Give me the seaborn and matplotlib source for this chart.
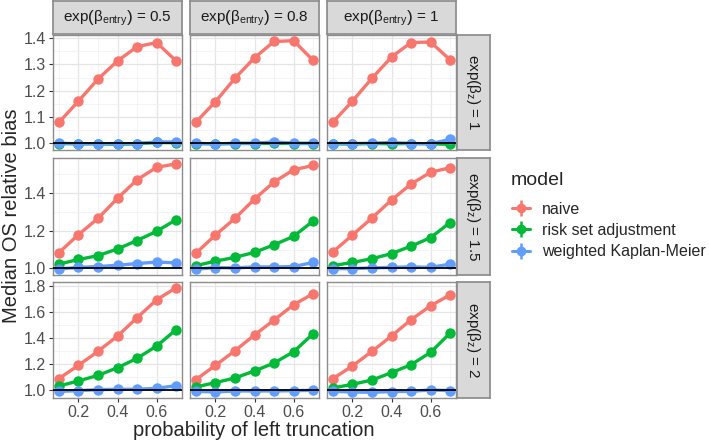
import numpy as np
import pandas as pd
import seaborn as sns
import matplotlib.pyplot as plt
from matplotlib.lines import Line2D
from matplotlib.legend_handler import HandlerTuple
from matplotlib.ticker import MultipleLocator, FormatStrFormatter

# probability of left truncation
probs = [0.1, 0.2, 0.3, 0.4, 0.5, 0.6, 0.7]
entry_levels = ["0.5", "0.8", "1"]
z_levels = ["1", "1.5", "2"]
models = ["naive", "risk set adjustment", "weighted Kaplan-Meier"]

# exp(beta_z) = 1
naive_z1 = [[1.079, 1.160, 1.244, 1.313, 1.367, 1.383, 1.313],
            [1.080, 1.158, 1.247, 1.325, 1.387, 1.390, 1.315],
            [1.080, 1.160, 1.247, 1.328, 1.383, 1.385, 1.317]]
risk_z1 = [[0.999, 0.998, 0.998, 0.996, 0.998, 1.003, 1.002],
           [0.999, 0.998, 0.999, 0.999, 1.000, 0.999, 0.999],
           [0.998, 0.997, 0.999, 0.998, 0.999, 0.998, 0.996]]
wkm_z1 = [[1.000, 0.998, 0.998, 0.999, 0.998, 1.005, 1.005],
          [1.000, 0.997, 1.000, 1.000, 1.005, 1.000, 1.000],
          [0.999, 0.999, 1.000, 1.003, 0.999, 0.998, 1.015]]

# exp(beta_z) = 1.5
naive_z15 = [[1.083, 1.179, 1.266, 1.373, 1.472, 1.538, 1.557],
             [1.080, 1.177, 1.266, 1.369, 1.460, 1.525, 1.548],
             [1.087, 1.177, 1.268, 1.364, 1.449, 1.512, 1.536]]
risk_z15 = [[1.022, 1.047, 1.067, 1.103, 1.148, 1.197, 1.259],
            [1.014, 1.038, 1.058, 1.085, 1.125, 1.170, 1.252],
            [1.014, 1.031, 1.051, 1.078, 1.118, 1.163, 1.244]]
wkm_z15 = [[0.996, 1.005, 1.009, 1.016, 1.025, 1.033, 1.029],
           [0.995, 1.004, 1.002, 1.007, 1.007, 1.009, 1.031],
           [0.998, 0.998, 1.002, 1.005, 1.007, 1.005, 1.022]]

# exp(beta_z) = 2
naive_z2 = [[1.090, 1.192, 1.300, 1.418, 1.559, 1.697, 1.790],
            [1.082, 1.192, 1.305, 1.426, 1.541, 1.659, 1.744],
            [1.090, 1.187, 1.300, 1.418, 1.544, 1.651, 1.736]]
risk_z2 = [[1.033, 1.072, 1.115, 1.174, 1.246, 1.341, 1.467],
           [1.026, 1.059, 1.095, 1.149, 1.210, 1.297, 1.436],
           [1.018, 1.046, 1.079, 1.136, 1.197, 1.292, 1.441]]
wkm_z2 = [[0.992, 0.997, 1.005, 1.008, 1.008, 1.015, 1.036],
          [0.992, 0.987, 0.995, 0.995, 0.995, 0.997, 1.000],
          [0.992, 0.987, 0.985, 0.990, 0.992, 1.003, 0.997]]

series = {
    "1": [naive_z1, risk_z1, wkm_z1],
    "1.5": [naive_z15, risk_z15, wkm_z15],
    "2": [naive_z2, risk_z2, wkm_z2],
}

rows = []
for z in z_levels:
    for m, block in zip(models, series[z]):
        for e, vals in zip(entry_levels, block):
            for p, v in zip(probs, vals):
                rows.append(dict(z=z, entry=e, model=m, prob=p, bias=v))
df = pd.DataFrame(rows)

palette = dict(zip(models, ["#F8766D", "#00BA38", "#619CFF"]))

sns.set_theme(style="white")
plt.rcParams["font.family"] = ["Liberation Sans", "DejaVu Sans"]
plt.rcParams["mathtext.fontset"] = "custom"
plt.rcParams["mathtext.rm"] = "Liberation Sans"
plt.rcParams["mathtext.it"] = "Liberation Sans:italic"

W, H = 709, 443
fig = plt.figure(figsize=(W / 100, H / 100), dpi=100)

xs = [(53, 182), (190, 319), (327, 456)]
ys = [(35, 150), (158, 275), (282, 398)]
border = "#8c8c8c"
strip_fill = "#D9D9D9"
text_grey = "#4D4D4D"

ystep = {"1": (0.1, 0.05), "1.5": (0.2, 0.1), "2": (0.2, 0.1)}


def fx(px):
    return px / W


def fy(py):
    return 1 - py / H


for r, z in enumerate(z_levels):
    sub_row = df[df.z == z]
    lo, hi = sub_row.bias.min(), sub_row.bias.max()
    pad = (hi - lo) * 0.055
    for c, e in enumerate(entry_levels):
        x0, x1 = xs[c]
        y0, y1 = ys[r]
        ax = fig.add_axes([fx(x0), fy(y1), fx(x1 - x0), (y1 - y0) / H])
        sub = sub_row[sub_row.entry == e]
        sns.lineplot(data=sub, x="prob", y="bias", hue="model", hue_order=models,
                     palette=palette, marker="o", markersize=7.5, markeredgewidth=0,
                     linewidth=2.4, legend=False, ax=ax)
        ax.axhline(1.0, color="black", lw=1.3, zorder=5)
        ax.set_xlim(0.07, 0.73)
        ax.set_ylim(lo - pad, hi + pad)
        ax.xaxis.set_major_locator(MultipleLocator(0.2))
        ax.xaxis.set_minor_locator(MultipleLocator(0.1))
        major, minor = ystep[z]
        ax.yaxis.set_major_locator(MultipleLocator(major))
        ax.yaxis.set_minor_locator(MultipleLocator(minor))
        ax.yaxis.set_major_formatter(FormatStrFormatter("%.1f"))
        ax.xaxis.set_major_formatter(FormatStrFormatter("%.1f"))
        ax.grid(which="major", color="#E5E5E5", lw=0.9)
        ax.grid(which="minor", color="#F2F2F2", lw=0.6)
        ax.set_axisbelow(True)
        for s in ax.spines.values():
            s.set_color(border)
            s.set_linewidth(1.0)
        ax.tick_params(which="major", length=3, width=0.8, color="#333333",
                       labelsize=11.5, labelcolor=text_grey, pad=2,
                       bottom=(r == 2), left=(c == 0))
        ax.tick_params(which="minor", length=0)
        ax.set_xlabel("")
        ax.set_ylabel("")
        if r < 2:
            ax.set_xticklabels([])
        if c > 0:
            ax.set_yticklabels([])

        # top strips
        if r == 0:
            sax = fig.add_axes([fx(x0), fy(34), fx(x1 - x0), 33 / H])
            sax.set_facecolor(strip_fill)
            sax.set_xticks([])
            sax.set_yticks([])
            for s in sax.spines.values():
                s.set_color(border)
            sax.text(0.5, 0.48, r"exp$\left(\mathrm{\beta}_{\mathrm{entry}}\right)$ = " + e,
                     ha="center", va="center", fontsize=11, color="#1a1a1a",
                     transform=sax.transAxes)

    # right strips
    y0, y1 = ys[r]
    sax = fig.add_axes([fx(457), fy(y1), fx(33), (y1 - y0) / H])
    sax.set_facecolor(strip_fill)
    sax.set_xticks([])
    sax.set_yticks([])
    for s in sax.spines.values():
        s.set_color(border)
    sax.text(0.5, 0.5, r"exp$\left(\mathrm{\beta}_{\mathrm{z}}\right)$ = " + z,
             ha="center", va="center", rotation=-90, fontsize=11, color="#1a1a1a",
             transform=sax.transAxes)

fig.text(fx(12), fy(216), "Median OS relative bias", rotation=90,
         ha="center", va="center", fontsize=14.5)
fig.text(fx(254), fy(430), "probability of left truncation",
         ha="center", va="center", fontsize=14.5)

# legend
fig.text(fx(511), fy(181), "model", ha="left", va="center", fontsize=14)
handles = []
for m in models:
    col = palette[m]
    handles.append((Line2D([], [], color=col, lw=2, marker="|", markersize=11,
                           markeredgewidth=1.8),
                    Line2D([], [], color=col, lw=2, marker="o", markersize=7,
                           markeredgewidth=0)))
leg = fig.legend(handles, models, handler_map={tuple: HandlerTuple(ndivide=1)},
                 loc="upper left", bbox_to_anchor=(fx(512), fy(202)), frameon=False,
                 fontsize=11.5, handlelength=1.1, handletextpad=0.8,
                 labelspacing=0.38, borderpad=0, borderaxespad=0)

fig.savefig("out.png", dpi=100)
